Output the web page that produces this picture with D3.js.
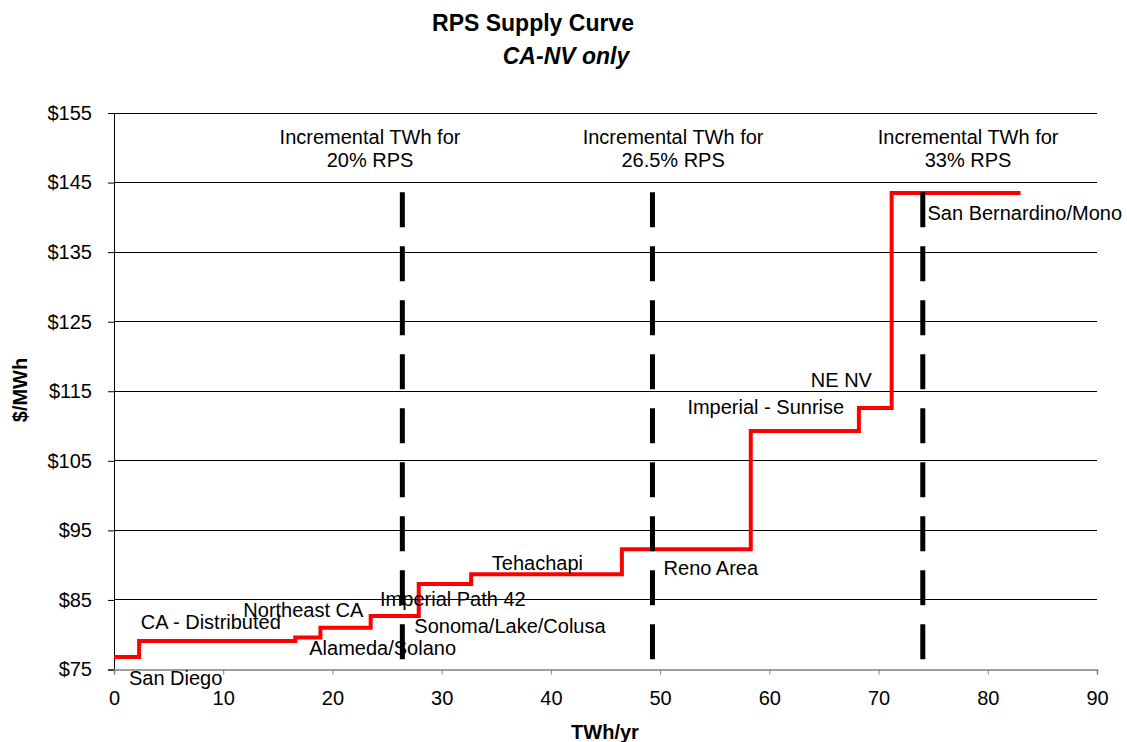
<!DOCTYPE html>
<head>
  <style>
    body { margin: 0; background: #fff; }
    text { font-family: "Liberation Sans", Arial, sans-serif; }
  </style>
</head>
<body>
  <script src="https://cdn.jsdelivr.net/npm/d3@7"></script>
  <script>
    // supply curve steps: cumulative TWh where each step starts, and its price
    var stepTwh   = [0, 2.3, 16.6, 18.9, 23.5, 27.9, 32.7, 46.5, 58.3, 68.2, 71.2, 83.0];
    var stepPrice = [76.8, 79.1, 79.6, 81.0, 82.7, 87.3, 88.7, 92.3, 109.3, 112.6, 143.5, 143.5];

    // resource area names and where each label sits (TWh, $/MWh)
    var areaNames = ["San Diego", "CA - Distributed", "Northeast CA", "Alameda/Solano",
                     "Imperial Path 42", "Sonoma/Lake/Colusa", "Tehachapi", "Reno Area",
                     "Imperial - Sunrise", "NE NV", "San Bernardino/Mono"];
    var areaX = [1.37, 2.45, 11.84, 17.88, 24.36, 27.5, 34.59, 50.32, 52.5, 63.8, 74.48];
    var areaY = [72.84, 80.78, 82.59, 77.08, 84.12, 80.2, 89.3, 88.65, 111.71, 115.63, 139.68];

    // RPS target markers
    var rpsTwh    = [26.4, 49.3, 74.05];
    var rpsLabels = ["20% RPS", "26.5% RPS", "33% RPS"];
    var rpsLabelX = [23.44, 51.19, 78.2];
    var rpsTop    = 143.6;

    var xTicks = d3.range(0, 91, 10);
    var yTicks = [75, 85, 95, 105, 115, 125, 135, 145, 155];

    var margin = {top: 113, right: 30, bottom: 72.5, left: 114};
    var width = 1127 - margin.left - margin.right;
    var height = 742 - margin.top - margin.bottom;

    var svg = d3.select("body").append("svg")
        .attr("width", 1127)
        .attr("height", 742);

    var g = svg.append("g")
        .attr("transform", "translate(" + margin.left + "," + margin.top + ")");

    var xScale = d3.scaleLinear().domain([0, 90]).range([0, width]);
    var yScale = d3.scaleLinear().domain([75, 155]).range([height, 0]);

    // gridlines
    g.append("g").selectAll("line")
      .data(yTicks.slice(1))
      .enter().append("line")
      .attr("x1", 0).attr("x2", width)
      .attr("y1", function(d) { return yScale(d); })
      .attr("y2", function(d) { return yScale(d); })
      .attr("stroke", "#000")
      .attr("stroke-width", 1)
      .attr("shape-rendering", "crispEdges");

    // y axis
    var yAxis = d3.axisLeft(yScale).tickValues(yTicks)
        .tickSize(6).tickPadding(16)
        .tickFormat(function(d) { return "$" + d; });
    var yg = g.append("g").call(yAxis);
    yg.select(".domain").attr("stroke", "#000");
    yg.selectAll(".tick line").attr("stroke", "#000");
    yg.selectAll("text").attr("font-size", "20px").attr("fill", "#000")
      .attr("font-family", "Liberation Sans, Arial, sans-serif");

    // x axis
    var xAxis = d3.axisBottom(xScale).tickValues(xTicks)
        .tickSize(5).tickPadding(16).tickSizeOuter(5);
    var xg = g.append("g")
        .attr("transform", "translate(0," + height + ")")
        .call(xAxis);
    xg.select(".domain").attr("stroke", "#808080").attr("stroke-width", 1.5);
    xg.selectAll(".tick line").attr("stroke", "#808080");
    xg.selectAll("text").attr("font-size", "20px").attr("fill", "#000")
      .attr("font-family", "Liberation Sans, Arial, sans-serif");

    // supply curve
    var steps = stepTwh.map(function(d, i) { return [d, stepPrice[i]]; });
    var line = d3.line()
        .x(function(d) { return xScale(d[0]); })
        .y(function(d) { return yScale(d[1]); })
        .curve(d3.curveStepAfter);
    g.append("path")
      .datum(steps)
      .attr("d", line)
      .attr("fill", "none")
      .attr("stroke", "#ff0000")
      .attr("stroke-width", 4);

    // RPS dashed markers
    g.append("g").selectAll("line")
      .data(rpsTwh)
      .enter().append("line")
      .attr("x1", function(d) { return xScale(d); })
      .attr("x2", function(d) { return xScale(d); })
      .attr("y1", yScale(rpsTop))
      .attr("y2", yScale(75))
      .attr("stroke", "#000")
      .attr("stroke-width", 5)
      .attr("stroke-dasharray", "35,19");

    // RPS annotations
    var rpsText = g.append("g").selectAll("text")
      .data(rpsLabels)
      .enter().append("text")
      .attr("text-anchor", "middle")
      .attr("font-size", "20px")
      .attr("x", function(d, i) { return xScale(rpsLabelX[i]); })
      .attr("y", yScale(150.6));
    rpsText.append("tspan").text("Incremental TWh for");
    rpsText.append("tspan")
      .attr("x", function(d, i) { return xScale(rpsLabelX[i]); })
      .attr("dy", 23.4)
      .text(function(d) { return d; });

    // area labels
    g.append("g").selectAll("text")
      .data(areaNames)
      .enter().append("text")
      .attr("font-size", "20px")
      .attr("x", function(d, i) { return xScale(areaX[i]); })
      .attr("y", function(d, i) { return yScale(areaY[i]); })
      .text(function(d) { return d; });

    // titles
    svg.append("text")
      .attr("x", 533).attr("y", 31)
      .attr("text-anchor", "middle")
      .attr("font-size", "23px").attr("font-weight", "bold")
      .text("RPS Supply Curve");
    svg.append("text")
      .attr("x", 566).attr("y", 64)
      .attr("text-anchor", "middle")
      .attr("font-size", "23px").attr("font-weight", "bold").attr("font-style", "italic")
      .text("CA-NV only");

    svg.append("text")
      .attr("x", 605).attr("y", 739)
      .attr("text-anchor", "middle")
      .attr("font-size", "20px").attr("font-weight", "bold")
      .text("TWh/yr");
    svg.append("text")
      .attr("transform", "translate(27,390) rotate(-90)")
      .attr("text-anchor", "middle")
      .attr("font-size", "20px").attr("font-weight", "bold")
      .text("$/MWh");
  </script>
</body>
